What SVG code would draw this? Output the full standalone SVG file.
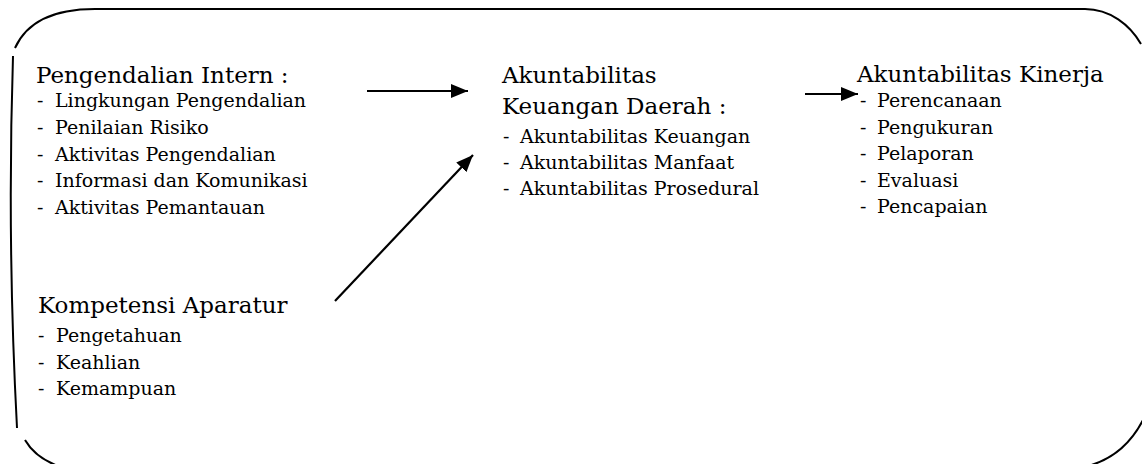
<svg xmlns="http://www.w3.org/2000/svg" width="1142" height="464" viewBox="0 0 1142 464">
<defs>
<style>
.h{font-family:"DejaVu Serif","Liberation Serif",serif;font-size:23px;fill:#000}
.t{font-family:"DejaVu Serif","Liberation Serif",serif;font-size:19px;fill:#000}
.b{fill:none;stroke:#000;stroke-width:2}
.c{fill:none;stroke:#000;stroke-width:2.2}
</style>
<marker id="ah" markerUnits="userSpaceOnUse" markerWidth="17" markerHeight="14" refX="17" refY="7" orient="auto">
<path d="M0,0 L17,7 L0,14 Z" fill="#000"/>
</marker>
</defs>
<rect width="1142" height="464" fill="#fff"/>
<g id="frame">
<path class="b" d="M15,48 C24,28 45,9 95,9 L1085,9 C1110,9 1130,25 1141,44"/>
<path class="b" d="M13,56 Q7,240 17,428"/>
<path class="b" d="M25,440 C32,452 42,460 58,466"/>
<path class="b" d="M1143,420 C1130,445 1110,460 1088,466"/>
</g>
<g id="pengendalian">
<text class="h" x="36" y="83">Pengendalian Intern :</text>
<text class="t" x="37" y="107">-</text><text class="t" x="55" y="107">Lingkungan Pengendalian</text>
<text class="t" x="37" y="133.8">-</text><text class="t" x="55" y="133.8">Penilaian Risiko</text>
<text class="t" x="37" y="160.5">-</text><text class="t" x="55" y="160.5">Aktivitas Pengendalian</text>
<text class="t" x="37" y="187.2">-</text><text class="t" x="55" y="187.2">Informasi dan Komunikasi</text>
<text class="t" x="37" y="214">-</text><text class="t" x="55" y="214">Aktivitas Pemantauan</text>
</g>
<g id="kompetensi">
<text class="h" x="38" y="313">Kompetensi Aparatur</text>
<text class="t" x="38" y="342">-</text><text class="t" x="56" y="342">Pengetahuan</text>
<text class="t" x="38" y="368.5">-</text><text class="t" x="56" y="368.5">Keahlian</text>
<text class="t" x="38" y="395">-</text><text class="t" x="56" y="395">Kemampuan</text>
</g>
<g id="akuntabilitas-keuangan">
<text class="h" x="502" y="83">Akuntabilitas</text>
<text class="h" x="502" y="114">Keuangan Daerah :</text>
<text class="t" x="503" y="143">-</text><text class="t" x="520" y="143">Akuntabilitas Keuangan</text>
<text class="t" x="503" y="169">-</text><text class="t" x="520" y="169">Akuntabilitas Manfaat</text>
<text class="t" x="503" y="195">-</text><text class="t" x="520" y="195">Akuntabilitas Prosedural</text>
</g>
<g id="akuntabilitas-kinerja">
<text class="h" x="857" y="82">Akuntabilitas Kinerja</text>
<text class="t" x="860" y="107">-</text><text class="t" x="877" y="107">Perencanaan</text>
<text class="t" x="860" y="133.5">-</text><text class="t" x="877" y="133.5">Pengukuran</text>
<text class="t" x="860" y="160">-</text><text class="t" x="877" y="160">Pelaporan</text>
<text class="t" x="860" y="186.5">-</text><text class="t" x="877" y="186.5">Evaluasi</text>
<text class="t" x="860" y="213">-</text><text class="t" x="877" y="213">Pencapaian</text>
</g>
<g id="connectors">
<line class="c" x1="367" y1="91" x2="468" y2="91" marker-end="url(#ah)"/>
<line class="c" x1="335" y1="301" x2="473" y2="155" marker-end="url(#ah)"/>
<line class="c" x1="805" y1="94" x2="858" y2="94" marker-end="url(#ah)"/>
</g>
</svg>
